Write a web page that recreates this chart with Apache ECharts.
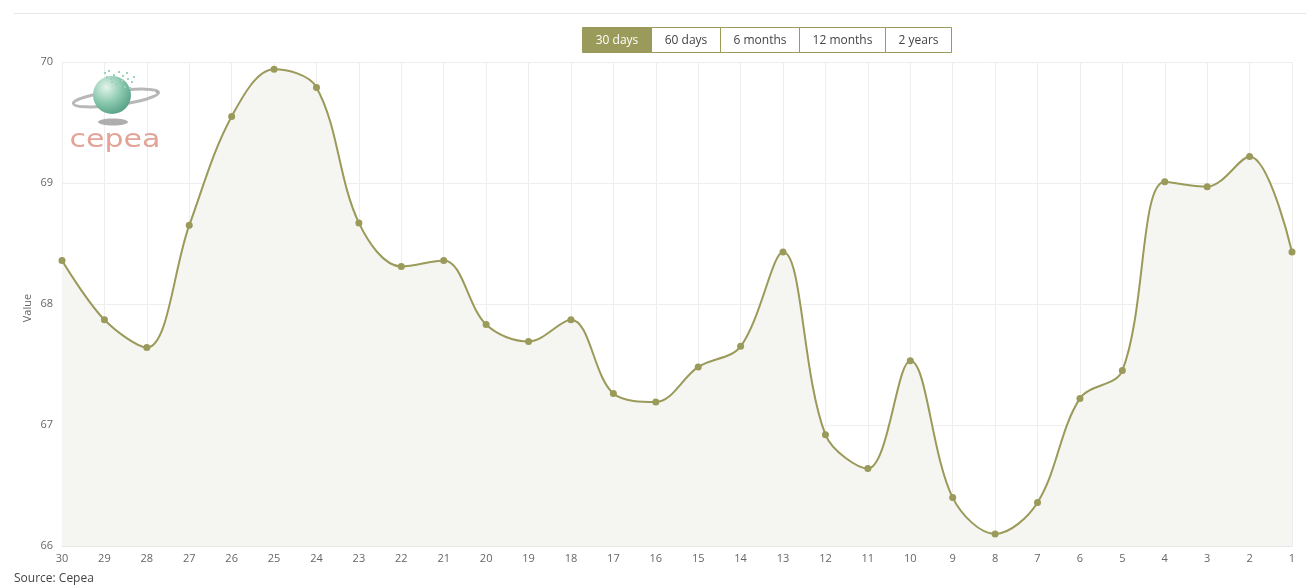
<!DOCTYPE html>
<html><head><meta charset="utf-8">
<script src="https://cdn.jsdelivr.net/npm/echarts@6/dist/echarts.min.js"></script>
<style>html,body{margin:0;padding:0;background:#fff}#c{width:1306px;height:587px}</style>
</head><body><div id="c"></div>
<script>
const categories = ['30','29','28','27','26','25','24','23','22','21','20','19','18','17','16','15','14','13','12','11','10','9','8','7','6','5','4','3','2','1'];
const values = [68.36,67.87,67.64,68.65,69.55,69.94,69.79,68.67,68.31,68.36,67.83,67.69,67.87,67.26,67.19,67.48,67.65,68.43,66.92,66.64,67.53,66.40,66.10,66.36,67.22,67.45,69.01,68.97,69.22,68.43];
const yTicks = [66,67,68,69,70];
const buttons = ['30 days','60 days','6 months','12 months','2 years'];
const buttonWidths = [69,69,79,86,66];

const olive = '#9a9a5a';
const chart = echarts.init(document.getElementById('c'));

const btnEls = [];
let bx = 582;
buttons.forEach((b, i) => {
  const w = buttonWidths[i];
  const active = i === 0;
  btnEls.push({type:'rect', shape:{x:bx+0.5,y:27.5,width:w,height:25}, style:{fill: active?olive:'#fff', stroke:olive, lineWidth:1}, z:10});
  btnEls.push({type:'text', x:bx+w/2+0.5, y:40.5, style:{text:b, fill: active?'#fff':'#444', font:'12px "Open Sans"', align:'center', verticalAlign:'middle'}, z:11});
  bx += w;
});

const dots = [[104,72],[108,70],[113,74],[118,71],[122,75],[126,72],[110,78],[116,79],[121,80],[127,78],[131,81],[119,85],[124,86],[129,87],[106,76],[133,76],[115,83],[111,81]];
const logo = [
  {type:'ellipse', shape:{cx:116, cy:98, rx:43, ry:7}, rotation:0.13, originX:116, originY:98, style:{fill:'none', stroke:'#b8b8b8', lineWidth:3}, z:5},
  {type:'circle', shape:{cx:112, cy:95, r:19}, style:{fill:{type:'radial', x:0.35, y:0.3, r:0.8, colorStops:[{offset:0,color:'#e4f4ec'},{offset:0.5,color:'#8ccab0'},{offset:1,color:'#4f9a80'}]}}, z:6},
  {type:'ellipse', shape:{cx:113, cy:122, rx:15, ry:3.5}, style:{fill:'#9a9a9a', opacity:0.8}, z:5},
  {type:'circle', shape:{cx:157, cy:92, r:1.3}, style:{fill:'#aaa'}, z:6},
  {type:'text', x:115, y:141, scaleX:1.25, originX:0, originY:0, style:{text:'cepea', fill:'#e3a397', font:'24px "DejaVu Sans"', align:'center', verticalAlign:'middle'}, z:6}
];
dots.forEach(d => logo.push({type:'rect', shape:{x:d[0], y:d[1], width:2, height:2}, style:{fill:'#9fd1bd'}, z:7}));

chart.setOption({
  animation:false,
  textStyle:{fontFamily:'"Open Sans"'},
  grid:{left:62, right:14, top:62, bottom:41, containLabel:false},
  xAxis:{
    type:'category', data:categories, boundaryGap:false,
    axisLine:{lineStyle:{color:'#e6e6e6'}},
    axisTick:{show:false},
    axisLabel:{color:'#666', fontSize:11, margin:7, interval:0},
    splitLine:{show:true, interval:0, lineStyle:{color:'#eeeeee'}}
  },
  yAxis:{
    type:'value', min:yTicks[0], max:yTicks[yTicks.length-1], interval:1,
    axisLine:{show:false}, axisTick:{show:false},
    axisLabel:{color:'#666', fontSize:11, margin:9},
    splitLine:{lineStyle:{color:'#eeeeee'}}
  },
  series:[{
    type:'line', data:values, smooth:0.35,
    symbol:'circle', symbolSize:7,
    itemStyle:{color:olive},
    lineStyle:{color:olive, width:2},
    areaStyle:{color:'#f5f5f1', opacity:1, origin:'start'}
  }],
  graphic:[
    {type:'line', shape:{x1:14, y1:13.5, x2:1306, y2:13.5}, style:{stroke:'#e6e6e6', lineWidth:1}},
    {type:'text', x:28, y:308, rotation:Math.PI/2, style:{text:'Value', fill:'#666', font:'11px "Open Sans"', align:'center', verticalAlign:'middle'}},
    {type:'text', x:14, y:579, style:{text:'Source: Cepea', fill:'#444', font:'12px "Open Sans"', verticalAlign:'middle'}},
    ...btnEls,
    ...logo
  ]
});
</script></body></html>
